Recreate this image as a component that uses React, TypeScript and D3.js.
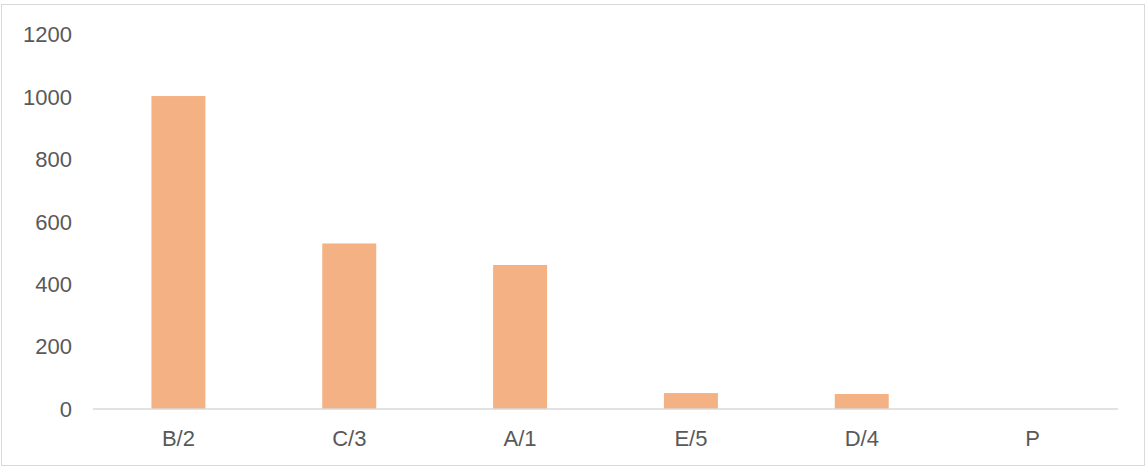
import React from "react";
import * as d3 from "d3";

const categories = ["B/2", "C/3", "A/1", "E/5", "D/4", "P"];
const values = [1002, 530, 461, 51, 48, 0];
const yTicks = [0, 200, 400, 600, 800, 1000, 1200];

const W = 1147;
const H = 467;
const left = 93;
const right = 1118;
const top = 34.2;
const bottom = 409;

export default function App() {
  const x = d3.scaleBand<string>().domain(categories).range([left, right]).paddingInner(0.684).paddingOuter(0.342);
  const y = d3.scaleLinear().domain([0, 1200]).range([bottom, top]);
  const font = "Arial, 'Liberation Sans', sans-serif";
  return (
    <svg width={W} height={H} style={{ position: "absolute", left: 0, top: 0 }}>
      <rect x={0} y={0} width={W} height={H} fill="#fff" />
      <rect x={1.5} y={4.5} width={1143} height={461} fill="#fff" stroke="#d9d9d9" strokeWidth={1} />
      {categories.map((c, i) => (
        <rect key={c} x={x(c)} y={y(values[i])} width={x.bandwidth()} height={bottom - y(values[i])} fill="#F4B183" />
      ))}
      <line x1={left} x2={right} y1={bottom} y2={bottom} stroke="#d9d9d9" strokeWidth={1.3} />
      {yTicks.map((t) => (
        <text key={t} x={72} y={y(t)} dy="0.36em" textAnchor="end" fontFamily={font} fontSize={22} fill="#595959">
          {t}
        </text>
      ))}
      {categories.map((c) => (
        <text key={c} x={(x(c) as number) + x.bandwidth() / 2} y={446} textAnchor="middle" fontFamily={font} fontSize={22} fill="#595959">
          {c}
        </text>
      ))}
    </svg>
  );
}
